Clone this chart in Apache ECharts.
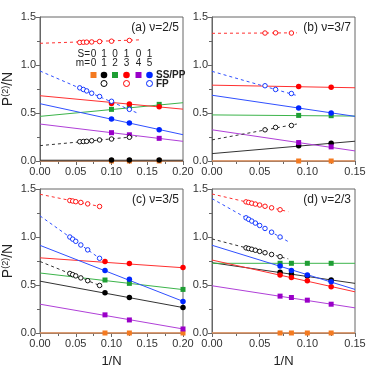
<!DOCTYPE html>
<html>
<head>
<meta charset="utf-8" />
<title>P(2)/N vs 1/N</title>
<script src="https://cdn.jsdelivr.net/npm/echarts@6/dist/echarts.min.js"></script>
<style>
  html, body { margin: 0; padding: 0; background: #fff; }
  #main { width: 374px; height: 372px; }
</style>
</head>
<body>
<div id="main"></div>
<script>
// m = 0..5 : colour and marker shape
var colors = ['#f47a20', '#000000', '#1f9e34', '#ff0000', '#9a00c8', '#0026ff'];
var lineColors = ['#e8955e', '#333333', '#3cb44b', '#ff3030', '#b040d8', '#3050ff'];
var shapes = ['rect', 'circle', 'rect', 'circle', 'rect', 'circle'];
var fpM = [1, 3, 5]; // FP states exist for m = 1, 3, 5
var fontFam = '"Liberation Sans", Arial, sans-serif';

// ---- (a) nu=2/5 ----
var xA = [0.1, 0.125, 0.1667];
var ssA = [
  [0, 0, 0],
  [0.01, 0.01, 0.01],
  [0.538, 0.559, 0.59],
  [0.60, 0.595, 0.565],
  [0.295, 0.273, 0.236],
  [0.437, 0.396, 0.326]
];
var fitA = [[0, 0], [0.008, 0.008], [0.465, 0.607], [0.68, 0.54], [0.385, 0.205], [0.597, 0.274]];
var fpxA = [0.0556, 0.0606, 0.0653, 0.0723, 0.0833, 0.1, 0.125];
var fpA = [
  [0.201, 0.203, 0.205, 0.211, 0.219, 0.229, 0.247],
  [1.235, 1.237, 1.238, 1.24, 1.244, 1.248, 1.256],
  [0.762, 0.745, 0.73, 0.706, 0.672, 0.622, 0.538]
];
var fpFitA = [[0.16, 0.135, 0.255], [1.226, 0.14, 1.262], [0.9375, 0.137, 0.497]];

// ---- (b) nu=3/7 ----
var xB = [0.0909, 0.125];
var ssB = [
  [0, 0],
  [0.16, 0.185],
  [0.475, 0.472],
  [0.776, 0.769],
  [0.192, 0.147],
  [0.553, 0.5]
];
var fitB = [[0, 0], [0.077, 0.206], [0.48, 0.468], [0.79, 0.763], [0.325, 0.105], [0.685, 0.465]];
var fpxB = [0.0556, 0.0667, 0.0833];
var fpB = [
  [0.325, 0.35, 0.37],
  [1.333, 1.335, 1.333],
  [0.784, 0.745, 0.703]
];
var fpFitB = [[0.22, 0.089, 0.385], [1.33, 0.089, 1.335], [0.934, 0.089, 0.682]];

// ---- (c) nu=3/5 ----
var xC = [0.0909, 0.125, 0.2];
var ssC = [
  [0, 0, 0],
  [0.42, 0.37, 0.265],
  [0.552, 0.517, 0.454],
  [0.745, 0.724, 0.682],
  [0.189, 0.136, 0.042],
  [0.65, 0.559, 0.328]
];
var fitC = [[0, 0], [0.54, 0.265], [0.625, 0.452], [0.783, 0.68], [0.30, 0.042], [0.913, 0.33]];
var fpxC = [0.0417, 0.0457, 0.05, 0.0571, 0.0667, 0.0833];
var fpC = [
  [0.62, 0.608, 0.595, 0.574, 0.545, 0.495],
  [1.38, 1.375, 1.368, 1.36, 1.345, 1.318],
  [1.0, 0.978, 0.955, 0.917, 0.866, 0.778]
];
var fpFitC = [[0.745, 0.087, 0.484], [1.445, 0.087, 1.313], [1.22, 0.087, 0.759]];

// ---- (d) nu=2/3 ----
var xD = [0.0714, 0.0833, 0.1, 0.125];
var ssD = [
  [0, 0, 0, 0],
  [0.632, 0.614, 0.593, 0.553],
  [0.726, 0.726, 0.726, 0.726],
  [0.604, 0.579, 0.544, 0.481],
  [0.384, 0.37, 0.342, 0.30],
  [0.697, 0.652, 0.604, 0.534]
];
var fitD = [[0, 0], [0.732, 0.517], [0.726, 0.726], [0.76, 0.429], [0.492, 0.262], [0.914, 0.454]];
var fpxD = [0.0357, 0.0385, 0.0417, 0.0455, 0.05, 0.0556, 0.0625, 0.0714];
var fpD = [
  [0.887, 0.88, 0.872, 0.862, 0.85, 0.836, 0.818, 0.795],
  [1.366, 1.36, 1.352, 1.343, 1.333, 1.32, 1.304, 1.284],
  [1.2, 1.184, 1.166, 1.145, 1.12, 1.089, 1.05, 1.0]
];
var fpFitD = [[0.98, 0.08, 0.772], [1.448, 0.08, 1.264], [1.40, 0.08, 0.952]];

var panels = [
  { label: '(a) \u03bd=2/5', xmax: 0.2,  x: xA, ss: ssA, fit: fitA, fpx: fpxA, fp: fpA, fpFit: fpFitA, left: 40,  top: 17 },
  { label: '(b) \u03bd=3/7', xmax: 0.15, x: xB, ss: ssB, fit: fitB, fpx: fpxB, fp: fpB, fpFit: fpFitB, left: 212, top: 17 },
  { label: '(c) \u03bd=3/5', xmax: 0.2,  x: xC, ss: ssC, fit: fitC, fpx: fpxC, fp: fpC, fpFit: fpFitC, left: 40,  top: 189 },
  { label: '(d) \u03bd=2/3', xmax: 0.15, x: xD, ss: ssD, fit: fitD, fpx: fpxD, fp: fpD, fpFit: fpFitD, left: 212, top: 189 }
];

var grids = [], xAxes = [], yAxes = [], series = [], graphics = [];

panels.forEach(function (p, i) {
  grids.push({ left: p.left, top: p.top, width: 143, height: 144, show: true,
    borderColor: '#666', borderWidth: 1, backgroundColor: 'transparent' });

  xAxes.push({
    gridIndex: i, type: 'value', min: 0, max: p.xmax, interval: 0.05,
    name: i >= 2 ? '1/N' : '', nameLocation: 'middle', nameGap: 22,
    nameTextStyle: { fontSize: 13, color: '#222', fontFamily: fontFam },
    axisLine: { lineStyle: { color: '#666' } },
    axisTick: { length: 4, lineStyle: { color: '#666' } },
    minorTick: { show: true, splitNumber: 2, length: 3, lineStyle: { color: '#666' } },
    splitLine: { show: false },
    axisLabel: { fontSize: 11, color: '#333', fontFamily: fontFam, margin: 5,
      formatter: function (v) { return v.toFixed(2); } }
  });

  yAxes.push({
    gridIndex: i, type: 'value', min: 0, max: 1.5, interval: 0.5,
    name: (i % 2 === 0) ? 'P{s|(2)}/N' : '', nameLocation: 'middle', nameGap: 24,
    nameTextStyle: { fontSize: 14, color: '#222', fontFamily: fontFam,
      rich: { s: { fontSize: 9, verticalAlign: 'top', padding: [0, 0, 6, 0], fontFamily: fontFam, color: '#222' } } },
    axisLine: { lineStyle: { color: '#666' } },
    axisTick: { length: 4, lineStyle: { color: '#666' } },
    minorTick: { show: true, splitNumber: 2, length: 3, lineStyle: { color: '#666' } },
    splitLine: { show: false },
    axisLabel: { fontSize: 11, color: '#333', fontFamily: fontFam, margin: 4,
      formatter: function (v) { return v.toFixed(1); } }
  });

  // solid fits (SS/PP)
  p.fit.forEach(function (f, m) {
    series.push({ type: 'line', xAxisIndex: i, yAxisIndex: i, silent: true, symbol: 'none',
      data: [[0, f[0]], [p.xmax, f[1]]],
      lineStyle: { color: lineColors[m], width: m === 0 ? 1.6 : 1 }, z: 2 });
  });
  // dashed fits (FP)
  p.fpFit.forEach(function (f, k) {
    var m = fpM[k];
    series.push({ type: 'line', xAxisIndex: i, yAxisIndex: i, silent: true, symbol: 'none',
      data: [[0, f[0]], [f[1], f[2]]],
      lineStyle: { color: lineColors[m], width: 1, type: [3, 3] }, z: 2 });
  });
  // filled markers
  p.ss.forEach(function (vals, m) {
    series.push({ type: 'scatter', xAxisIndex: i, yAxisIndex: i, silent: true,
      symbol: shapes[m], symbolSize: m % 2 === 0 ? 5 : 5.5,
      data: p.x.map(function (x, j) { return [x, vals[j]]; }),
      itemStyle: { color: colors[m], opacity: 1 }, z: 3 });
  });
  // open markers
  p.fp.forEach(function (vals, k) {
    var m = fpM[k];
    series.push({ type: 'scatter', xAxisIndex: i, yAxisIndex: i, silent: true,
      symbol: 'circle', symbolSize: 4.5,
      data: p.fpx.map(function (x, j) { return [x, vals[j]]; }),
      itemStyle: { color: '#fff', borderColor: colors[m], borderWidth: 0.9, opacity: 1 }, z: 3 });
  });

  graphics.push({ type: 'text', right: 374 - (p.left + 139), top: p.top + 5,
    style: { text: p.label, fontSize: 12, fill: '#222', fontFamily: fontFam } });
});

// legend inside panel (a)
var cols = [93.5, 104, 115, 126.5, 138.5, 149.5];
var sRow = ['0', '1', '0', '1', '0', '1'];
var mRow = ['0', '1', '2', '3', '4', '5'];
graphics.push({ type: 'text', x: cols[0] - 3.5, y: 54, style: { text: 'S=', fontSize: 10, fill: '#222', fontFamily: fontFam, align: 'right', verticalAlign: 'middle' } });
graphics.push({ type: 'text', x: cols[0] - 3.5, y: 63, style: { text: 'm=', fontSize: 10, fill: '#222', fontFamily: fontFam, align: 'right', verticalAlign: 'middle' } });
cols.forEach(function (cx, m) {
  graphics.push({ type: 'text', x: cx, y: 54, style: { text: sRow[m], fontSize: 10, fill: '#222', fontFamily: fontFam, align: 'center', verticalAlign: 'middle' } });
  graphics.push({ type: 'text', x: cx, y: 63, style: { text: mRow[m], fontSize: 10, fill: '#222', fontFamily: fontFam, align: 'center', verticalAlign: 'middle' } });
  if (shapes[m] === 'rect') {
    graphics.push({ type: 'rect', shape: { x: cx - 3, y: 72, width: 6, height: 6 }, style: { fill: colors[m] } });
  } else {
    graphics.push({ type: 'circle', shape: { cx: cx, cy: 75, r: 3.3 }, style: { fill: colors[m] } });
  }
  if (m % 2 === 1) {
    graphics.push({ type: 'circle', shape: { cx: cx, cy: 83.5, r: 3 }, style: { fill: '#fff', stroke: colors[m], lineWidth: 1 } });
  }
});
graphics.push({ type: 'text', x: 156, y: 75, style: { text: 'SS/PP', fontSize: 10, fontWeight: 'bold', fill: '#222', fontFamily: fontFam, verticalAlign: 'middle' } });
graphics.push({ type: 'text', x: 156, y: 84, style: { text: 'FP', fontSize: 10, fontWeight: 'bold', fill: '#222', fontFamily: fontFam, verticalAlign: 'middle' } });

var myChart = echarts.init(document.getElementById('main'));
myChart.setOption({
  animation: false,
  backgroundColor: '#fff',
  grid: grids,
  xAxis: xAxes,
  yAxis: yAxes,
  series: series,
  graphic: graphics
});
</script>
</body>
</html>
